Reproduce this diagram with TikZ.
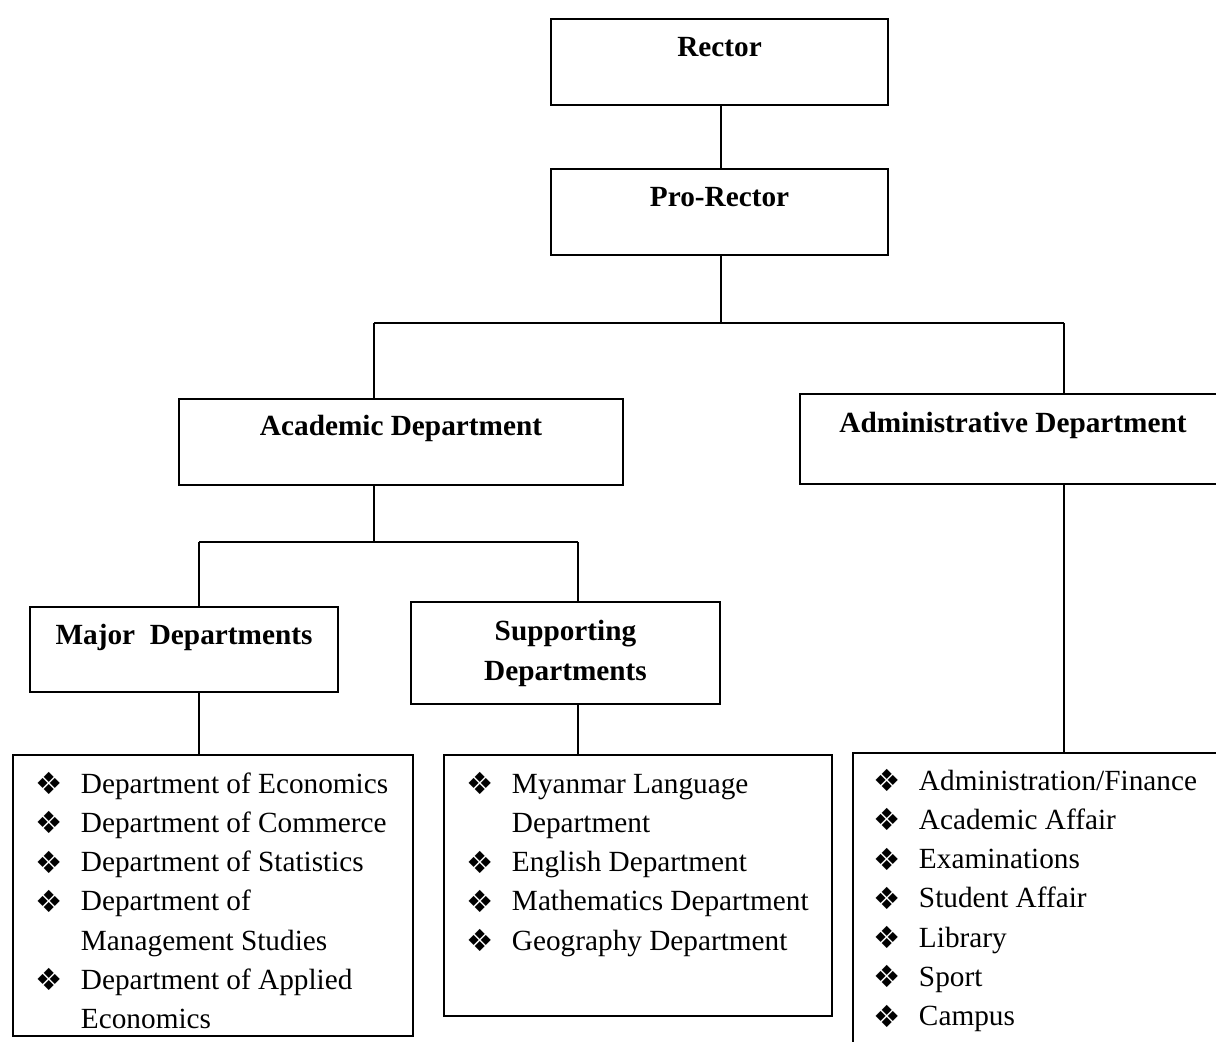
\documentclass[tikz,border=0pt]{standalone}
\usepackage{fontspec}
\setmainfont{Liberation Serif}
\newfontfamily\bulfont{DejaVu Sans}

\newdimen\pxu \pxu=0.41pt
\newcommand\bul{\makebox[18.5pt][l]{\raisebox{-0.6pt}{\bulfont\fontsize{12.5}{12.5}\selectfont ❖}}}

\tikzset{
  orgbox/.style={draw, line width=0.8pt, inner sep=0pt, anchor=north,
    font=\fontsize{12}{16.4}\selectfont\bfseries},
  listbox/.style={draw, line width=0.8pt, inner sep=0pt, anchor=north west},
  items/.style={inner sep=0pt, anchor=base west,
    font=\fontsize{12}{16.1}\selectfont},
}

\begin{document}
\begin{tikzpicture}[x=0.41pt, y=-0.41pt, line width=0.7pt]
    \useasboundingbox (0,0) rectangle (1216,1041);
    % top of the chart
    \node[orgbox, minimum width=337*\pxu, text height=38*\pxu, text depth=48*\pxu]
      (rector) at (719.5,18) {Rector};
    \node[orgbox, minimum width=337*\pxu, text height=38*\pxu, text depth=48*\pxu]
      (prorector) at (719.5,168) {Pro-Rector};
    \node[orgbox, minimum width=444*\pxu, text height=37*\pxu, text depth=49*\pxu]
      (academic) at (401,398) {Academic Department};
    \node[orgbox, minimum width=426*\pxu, text height=39*\pxu, text depth=51*\pxu]
      (admin) at (1013,393) {Administrative Department};
    \node[orgbox, minimum width=308*\pxu, text height=38*\pxu, text depth=47*\pxu]
      (major) at (184,606) {Major~~Departments};
    \node[orgbox, minimum width=309*\pxu, text height=39*\pxu, text depth=63*\pxu]
      (support) at (565.5,601)
      {\begin{tabular}[t]{@{}c@{}}Supporting\\Departments\end{tabular}};
    % list boxes
    \node[listbox, minimum width=400*\pxu, minimum height=281*\pxu] (majorlist) at (12,754) {};
    \node[listbox, minimum width=388*\pxu, minimum height=261*\pxu] (supportlist) at (443,754) {};
    \node[listbox, minimum width=380*\pxu, minimum height=300*\pxu] (adminlist) at (852,752) {};
    \node[items] (majoritems) at (35,793) {\begin{tabular}[t]{@{}l@{}l@{}}
      \bul & Department of Economics\\
      \bul & Department of Commerce\\
      \bul & Department of Statistics\\
      \bul & Department of\\
           & Management Studies\\
      \bul & Department of Applied\\
           & Economics
    \end{tabular}};
    \node[items] (supportitems) at (466,793) {\begin{tabular}[t]{@{}l@{}l@{}}
      \bul & Myanmar Language\\
           & Department\\
      \bul & English Department\\
      \bul & Mathematics Department\\
      \bul & Geography Department
    \end{tabular}};
    \node[items] (adminitems) at (873,790) {\begin{tabular}[t]{@{}l@{}l@{}}
      \bul & Administration/Finance\\
      \bul & Academic Affair\\
      \bul & Examinations\\
      \bul & Student Affair\\
      \bul & Library\\
      \bul & Sport\\
      \bul & Campus
    \end{tabular}};
    % branch points
    \coordinate (top-split) at (721,323);
    \coordinate (acad-in) at (374,323);
    \coordinate (admin-in) at (1064,323);
    \coordinate (dept-split) at (374,542);
    \coordinate (major-in) at (199,542);
    \coordinate (support-in) at (578,542);
    % connectors
    \draw (rector.south -| top-split) -- (prorector.north -| top-split);
    \draw (prorector.south -| top-split) -- (top-split);
    \draw (acad-in) -- (admin-in);
    \draw (acad-in) -- (acad-in |- academic.north);
    \draw (admin-in) -- (admin-in |- admin.north);
    \draw (academic.south -| dept-split) -- (dept-split);
    \draw (major-in) -- (support-in);
    \draw (major-in) -- (major-in |- major.north);
    \draw (support-in) -- (support-in |- support.north);
    \draw (major.south -| major-in) -- (major-in |- majorlist.north);
    \draw (support.south -| support-in) -- (support-in |- supportlist.north);
    \draw (admin.south -| admin-in) -- (admin-in |- adminlist.north);
\end{tikzpicture}
\end{document}
